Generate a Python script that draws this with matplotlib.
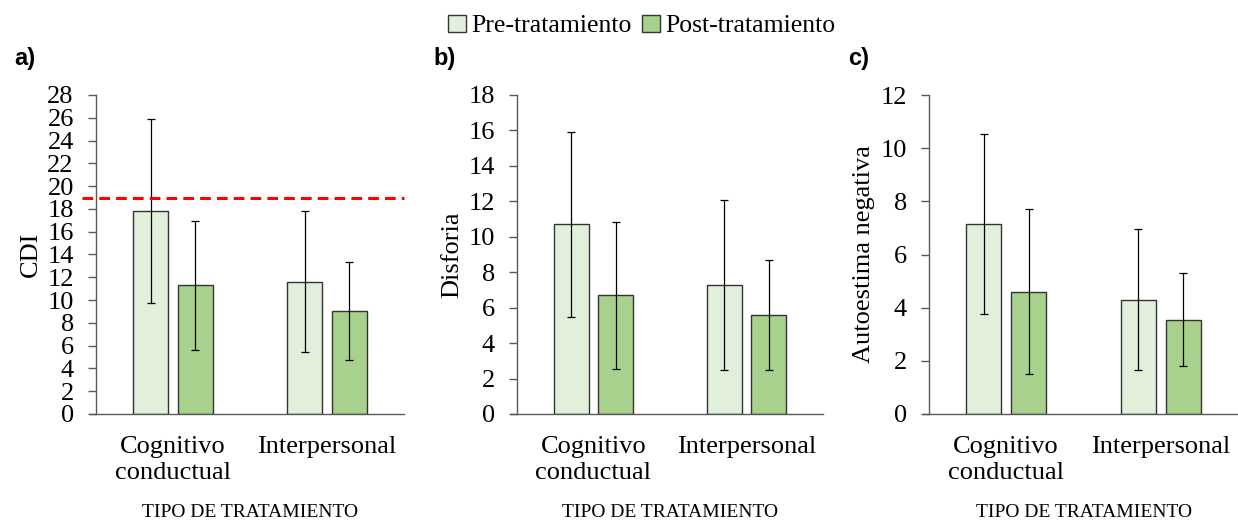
import numpy as np
import matplotlib.pyplot as plt
from matplotlib.patches import Patch

plt.rcParams['font.family'] = ['Liberation Serif', 'DejaVu Serif']

categories = ['Cognitivo\nconductual', 'Interpersonal']
series = ['Pre-tratamiento', 'Post-tratamiento']

# panel a) CDI
cdi_pre = [17.8, 11.6]
cdi_pre_sd = [8.1, 6.2]
cdi_post = [11.3, 9.0]
cdi_post_sd = [5.65, 4.3]
cdi_cutoff = 19

# panel b) Disforia
dis_pre = [10.7, 7.3]
dis_pre_sd = [5.2, 4.8]
dis_post = [6.7, 5.6]
dis_post_sd = [4.15, 3.1]

# panel c) Autoestima negativa
aut_pre = [7.15, 4.3]
aut_pre_sd = [3.4, 2.65]
aut_post = [4.6, 3.55]
aut_post_sd = [3.1, 1.75]

panels = [
    ('a)', 'CDI', 28, cdi_pre, cdi_pre_sd, cdi_post, cdi_post_sd),
    ('b)', 'Disforia', 18, dis_pre, dis_pre_sd, dis_post, dis_post_sd),
    ('c)', 'Autoestima negativa', 12, aut_pre, aut_pre_sd, aut_post, aut_post_sd),
]

c_pre = '#E2EFDA'
c_post = '#A9D18E'
spine_col = '#595959'

W, H = 1238, 523
fig = plt.figure(figsize=(W / 100, H / 100), dpi=100)

lefts = [96, 517, 929]
widths = [308, 306, 309]
label_x = [14, 433, 848]

x = np.arange(len(categories))
bw = 0.225
off = 0.145

for i, (tag, ylab, ymax, pre, pre_sd, post, post_sd) in enumerate(panels):
    ax = fig.add_axes([lefts[i] / W, 1 - 414 / H, widths[i] / W, (414 - 95) / H])
    ax.bar(x - off, pre, bw, color=c_pre, edgecolor='#333333', linewidth=1, zorder=2)
    ax.bar(x + off, post, bw, color=c_post, edgecolor='#333333', linewidth=1, zorder=2)
    ax.errorbar(x - off, pre, yerr=pre_sd, fmt='none', ecolor='black',
                elinewidth=0.9, capsize=3, capthick=0.9, zorder=3)
    ax.errorbar(x + off, post, yerr=post_sd, fmt='none', ecolor='black',
                elinewidth=0.9, capsize=3, capthick=0.9, zorder=3)

    ax.set_xlim(-0.5, 1.5)
    ax.set_ylim(0, ymax)
    ax.set_yticks(np.arange(0, ymax + 1, 2))
    ax.set_xticks(x)
    ax.set_xticklabels(categories, fontsize=19, linespacing=1.25)
    ax.tick_params(axis='x', length=0, pad=16)
    ax.tick_params(axis='y', direction='out', length=6, width=1,
                   color=spine_col, labelsize=19, pad=10)
    for s in ['top', 'right']:
        ax.spines[s].set_visible(False)
    for s in ['left', 'bottom']:
        ax.spines[s].set_color(spine_col)
        ax.spines[s].set_linewidth(1)
    ax.spines['bottom'].set_bounds(-0.5 - 6 / (widths[i] / 2), 1.5)

    ax.set_ylabel(ylab, fontsize=19, labelpad=4)
    ax.set_xlabel('TIPO DE TRATAMIENTO', fontsize=14, labelpad=14)

    fig.text(label_x[i] / W, 1 - 59 / H, tag, fontsize=17, fontweight='bold',
             family='Liberation Sans', va='center', ha='left')

    if tag == 'a)':
        ax.axhline(cdi_cutoff, xmin=-0.045, xmax=1.0, color='#FF0000',
                   linewidth=2.2, dashes=(3.5, 2), clip_on=False, zorder=4)

handles = [Patch(facecolor=c_pre, edgecolor='#333333', linewidth=1),
           Patch(facecolor=c_post, edgecolor='#333333', linewidth=1)]
fig.legend(handles, series, loc='center', bbox_to_anchor=(642 / W, 1 - 26 / H),
           ncol=2, frameon=False, fontsize=18.5, handlelength=0.7, handleheight=0.7,
           handletextpad=0.2, columnspacing=0.4)

fig.savefig('out.png', dpi=100)
